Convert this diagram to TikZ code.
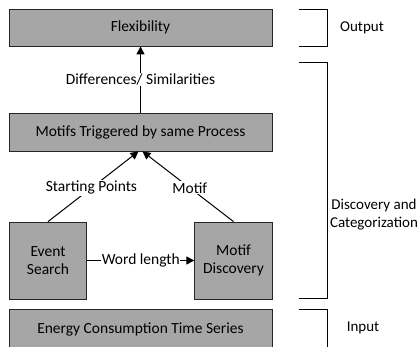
\documentclass[tikz,border=0pt]{standalone}
\usepackage{fontspec}
\setmainfont{Carlito}
\usetikzlibrary{arrows.meta,positioning}

\tikzset{
	procbox/.style={draw=black!85, fill=black!35, line width=0.8pt, minimum width=263pt, minimum height=37pt, inner sep=0pt, font=\fontsize{15.5}{18}\selectfont},
	smallbox/.style={procbox, minimum width=77.5pt, minimum height=77pt, align=center},
	flow/.style={line width=1pt, -{Triangle[length=8pt,width=8pt]}},
	flowlabel/.style={fill=white, inner sep=1pt, font=\fontsize{15.5}{18}\selectfont},
	bracket/.style={line width=0.8pt},
	sidelabel/.style={font=\fontsize{15}{18}\selectfont, align=center}
}

\begin{document}
\begin{tikzpicture}[x=1pt, y=1pt]
			%%%%% FRAME %%%%%
			\clip (0, 0) rectangle (418, 346);
			
			%%%%% BOXES %%%%%
			\node[procbox] (flex) at (140.5, 318.5) {Flexibility};
			\node[procbox, minimum height=38pt] (motifs) at (140.5, 214) {Motifs Triggered by same Process};
			\node[smallbox] (event) at (48, 85.5) {Event\\Search};
			\node[smallbox] (mdisc) at (233.5, 85.5) {Motif\\Discovery};
			\node[procbox, minimum height=40pt] (energy) at (140.5, 17) {Energy Consumption Time Series};
			
			%%%%% ARROWS %%%%%
			\draw[flow] (motifs.north) -- node[flowlabel] {Differences/ Similarities} (flex.south);
			\draw[flow] (event.north) -- node[flowlabel, pos=0.48] {Starting Points} ([xshift=-2pt]motifs.south);
			\draw[flow] (mdisc.north) -- node[flowlabel, pos=0.48] {Motif} ([xshift=2pt]motifs.south);
			\draw[flow] (event.east) -- node[flowlabel, inner sep=0.5pt] {Word length} (mdisc.west);
			
			%%%%% BRACKETS %%%%%
			\draw[bracket] (299, 337) -- (327, 337) -- (327, 300) -- (299, 300);
			\draw[bracket] (299, 284) -- (327, 284) -- (327, 48) -- (299, 48);
			\draw[bracket] (299, 37) -- (327, 37) -- (327, -4);
			
			\node[sidelabel] (lout) at (362, 318) {Output};
			\node[sidelabel] (ldisc) at (374, 131) {Discovery and\\Categorization};
			\node[sidelabel] (lin) at (363, 18) {Input};
			
		\end{tikzpicture}
\end{document}
